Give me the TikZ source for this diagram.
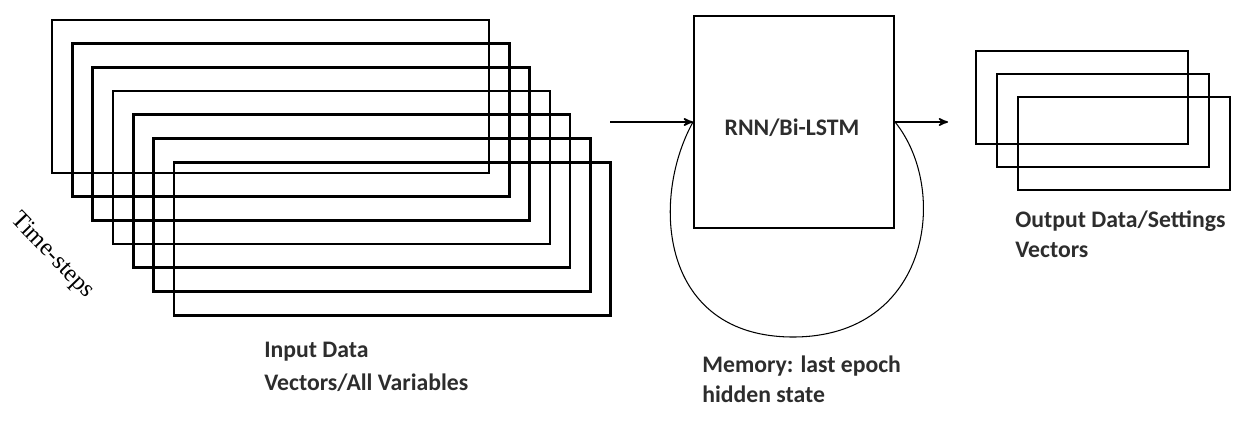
\documentclass[tikz,border=0pt]{standalone}
\usepackage{fontspec}
\setmainfont{Carlito}
\newfontfamily\timesfont{Liberation Serif}
\usetikzlibrary{arrows}

\definecolor{labelgrey}{RGB}{45,45,45}

\begin{document}
\begin{tikzpicture}[x=0.02cm,y=-0.02cm,
  inframe/.style={draw,line width=1.5pt,minimum width=8.74cm,minimum height=3.06cm,inner sep=0},
  outframe/.style={draw,line width=1.4pt,minimum width=4.24cm,minimum height=1.87cm,inner sep=0},
  process/.style={draw,line width=1.2pt,minimum width=4cm,minimum height=4.24cm,inner sep=0},
  to/.style={->,>=stealth',line width=0.9pt},
  memory/.style={line width=0.6pt},
  caption/.style={text=labelgrey,font=\fontsize{13.5}{17.5}\selectfont\bfseries,align=left,inner sep=0}]

  \useasboundingbox (0,0) rectangle (1243,426);

  % Stack of input time-steps
  \foreach \i in {0,...,6}
    \node[inframe] (in\i) at (270.5+20.3*\i,96.5+23.7*\i) {};

  % Stack of outputs
  \foreach \i in {0,1,2}
    \node[outframe] (out\i) at (1082+21*\i,97.5+23*\i) {};

  % Network
  \node[process] (rnn) at (794,122) {};
  \node[caption] (rnnlabel) at (792,128) {RNN/Bi-LSTM};

  % Labels
  \node[font=\timesfont\fontsize{14}{16}\selectfont,rotate=-46,inner sep=0] (timesteps) at (52,256) {Time-steps};
  \node[caption,anchor=north west,font=\fontsize{13.5}{18.5}\selectfont\bfseries] (inputlabel) at (264,342) {Input Data\\Vectors/All Variables};
  \node[caption,anchor=north west] (memorylabel) at (702,355) {Memory: last epoch\\hidden state};
  \node[caption,anchor=north west] (outputlabel) at (1015,210) {Output Data/Settings\\Vectors};

  % Arrows and the memory loop
  \coordinate (inputstart) at (610,122);
  \coordinate (outputend) at (948,122);
  \coordinate (memorylow) at (793,337);
  \draw[to] (inputstart) -- (rnn.west);
  \draw[to] (rnn.east) -- (outputend);
  \draw[memory] (rnn.west) .. controls (650,200) and (660,337) .. (memorylow)
    .. controls (930,337) and (950,190) .. (rnn.east);
\end{tikzpicture}
\end{document}
